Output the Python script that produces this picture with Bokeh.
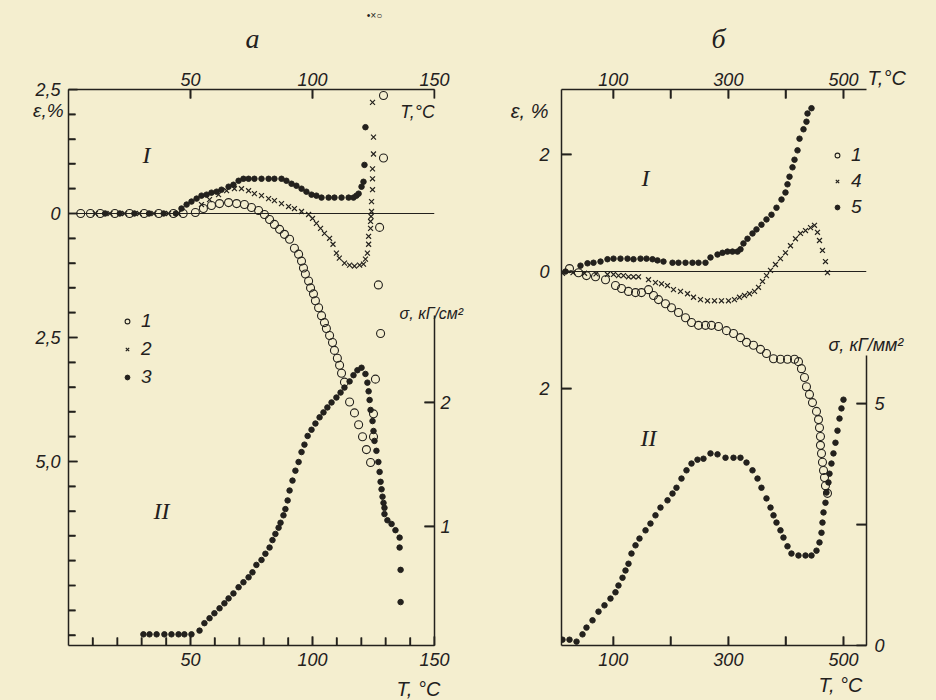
import math
from bokeh.plotting import figure
from bokeh.models import Range1d, LinearAxis, FixedTicker, Span, Label, Legend, LegendItem
from bokeh.layouts import row
from bokeh.embed import file_html
from bokeh.resources import INLINE

# ---------------- panel "а" data ----------------
a1_T = [5, 9, 13, 19, 25, 31, 37, 43, 47, 52.0, 55.3, 58.6, 61.9, 65.6, 68.9, 72.1, 75.0, 77.9, 80.3,
        82.4, 84.4, 86.5, 88.5, 90.6, 92.6, 94.3, 95.5, 96.3, 97.1, 98.4, 99.2, 100.4, 101.2, 102.5,
        103.7, 104.9, 105.7, 107.0, 108.2, 109.0, 110.2, 111.1, 111.9, 113.1, 115.2, 117.2, 118.9,
        120.5, 122.1, 123.8, 125.0, 125.0, 125.8, 127.9, 127.0, 127.5, 129.1, 129.1]
a1_E = [0, 0, 0, 0, 0, 0, 0, 0, 0, 0.02, 0.10, 0.16, 0.20, 0.22, 0.20, 0.18, 0.12, 0.06, -0.02,
        -0.12, -0.22, -0.32, -0.42, -0.52, -0.70, -0.82, -0.96, -1.10, -1.22, -1.36, -1.50, -1.62,
        -1.76, -1.90, -2.06, -2.20, -2.32, -2.46, -2.60, -2.76, -2.92, -3.06, -3.22, -3.40, -3.80,
        -4.02, -4.26, -4.50, -4.76, -5.02, -4.50, -4.04, -3.34, -2.42, -1.44, -0.28, 1.12, 2.38]

a2_T = [11, 17, 23, 29, 35, 41, 45, 54.5, 57.8, 61.5, 64.8, 68.0, 70.9, 73.8, 76.2, 79.1, 82.0,
        84.4, 87.3, 90.2, 92.6, 95.5, 98.4, 100.0, 101.6, 103.3, 104.9, 107.0, 108.4, 109.8, 111.0,
        113.1, 115.2, 117.2, 119.3, 120.9, 121.7, 122.5, 123.0, 123.0, 123.8, 123.8, 124.0, 124.2,
        124.2, 124.6, 124.6, 124.6, 125.0, 125.0, 124.6]
a2_E = [0, 0, 0, 0, 0, 0, 0, 0.18, 0.28, 0.38, 0.46, 0.50, 0.50, 0.46, 0.40, 0.36, 0.30, 0.26,
        0.20, 0.14, 0.10, 0.04, -0.02, -0.10, -0.20, -0.30, -0.40, -0.50, -0.62, -0.80, -0.90,
        -1.00, -1.04, -1.06, -1.04, -1.02, -0.92, -0.80, -0.62, -0.46, -0.30, -0.16, -0.06, 0.04,
        0.24, 0.48, 0.70, 0.90, 1.20, 1.54, 2.24]

a3_T = [15, 21, 27, 33, 39, 44, 46.3, 48.4, 50.4, 52.5, 54.5, 56.6, 58.6, 60.7, 62.7, 65.6, 67.6,
        69.7, 71.7, 73.8, 76.2, 79.1, 82.0, 84.4, 87.3, 89.3, 91.4, 93.4, 95.5, 97.5, 99.6, 101.6,
        103.7, 106.6, 109.0, 111.9, 114.8, 116.8, 118.0, 118.9, 120.1, 120.9, 121.3, 121.7]
a3_E = [0, 0, 0, 0, 0, 0, 0.10, 0.18, 0.24, 0.30, 0.36, 0.38, 0.42, 0.44, 0.48, 0.54, 0.58, 0.66,
        0.70, 0.70, 0.70, 0.70, 0.70, 0.70, 0.70, 0.66, 0.60, 0.56, 0.50, 0.44, 0.38, 0.36, 0.32,
        0.32, 0.32, 0.32, 0.32, 0.32, 0.36, 0.40, 0.54, 0.64, 0.98, 1.74]

as_T = [30.7, 33.2, 36.1, 39.3, 42.2, 45.1, 47.5, 50.4, 53.7, 55.7, 57.8, 59.8, 61.9, 63.9, 65.6,
        67.6, 69.7, 71.7, 73.8, 75.4, 77.0, 79.1, 80.7, 82.4, 83.6, 84.8, 86.1, 86.9, 88.1, 88.9,
        89.8, 90.6, 91.8, 93.0, 94.3, 95.5, 96.7, 98.0, 99.6, 101.2, 102.9, 104.5, 106.1, 107.8,
        109.8, 111.5, 113.1, 115.2, 116.8, 118.4, 120.1, 121.7, 122.5, 123.0, 123.4, 123.8, 124.6,
        125.0, 125.4, 126.2, 127.0, 127.5, 127.9, 128.3, 128.7, 129.1, 129.5, 129.5, 130.7, 132.4,
        134.0, 135.7, 135.7, 136.1, 136.1]
as_S = [0.13, 0.13, 0.13, 0.13, 0.13, 0.13, 0.13, 0.13, 0.16, 0.22, 0.26, 0.30, 0.34, 0.38, 0.42,
        0.46, 0.51, 0.55, 0.59, 0.63, 0.69, 0.73, 0.78, 0.83, 0.89, 0.94, 0.99, 1.03, 1.09, 1.14,
        1.21, 1.29, 1.37, 1.45, 1.52, 1.60, 1.66, 1.73, 1.78, 1.83, 1.88, 1.92, 1.96, 2.00, 2.04,
        2.08, 2.12, 2.17, 2.22, 2.26, 2.28, 2.23, 2.16, 2.09, 2.02, 1.94, 1.85, 1.77, 1.69, 1.61,
        1.52, 1.44, 1.36, 1.30, 1.24, 1.19, 1.15, 1.10, 1.05, 1.02, 0.97, 0.91, 0.83, 0.65, 0.39]

# ---------------- panel "б" data ----------------
b1_T = [23.9, 39.5, 53.4, 69.1, 86.5, 103.8, 114.3, 126.4, 138.6, 149.0, 161.2, 169.9, 178.5,
        190.7, 201.1, 213.3, 225.5, 235.9, 248.1, 260.2, 270.6, 282.8, 296.7, 308.9, 321.0, 331.5,
        343.6, 355.8, 366.2, 378.4, 390.5, 402.7, 414.9, 421.8, 427.0, 432.2, 435.7, 440.9, 446.1,
        453.1, 456.6, 458.3, 460.0, 460.0, 461.8, 463.5, 465.3, 467.0, 468.7, 472.2]
b1_E = [0.05, -0.02, -0.07, -0.09, -0.14, -0.24, -0.29, -0.34, -0.36, -0.36, -0.31, -0.41, -0.48,
        -0.55, -0.62, -0.70, -0.79, -0.87, -0.92, -0.92, -0.92, -0.94, -1.01, -1.06, -1.13, -1.21,
        -1.26, -1.33, -1.40, -1.49, -1.50, -1.50, -1.50, -1.54, -1.66, -1.81, -1.97, -2.10, -2.24,
        -2.39, -2.53, -2.67, -2.82, -2.97, -3.11, -3.26, -3.40, -3.52, -3.66, -3.79]

b4_T = [11.7, 30, 50, 70, 89.9, 100.4, 109.0, 117.7, 126.4, 135.1, 143.8, 161.2, 173.3, 183.8,
        194.2, 204.6, 216.8, 229.0, 239.4, 251.5, 263.7, 275.9, 288.0, 300.2, 310.6, 319.3, 328.0,
        336.7, 345.4, 352.3, 359.3, 366.2, 373.2, 381.8, 390.5, 399.2, 407.9, 416.6, 425.3, 434.0,
        442.7, 449.6, 454.8, 458.3, 463.5, 468.7, 472.2]
b4_E = [-0.03, -0.02, -0.03, -0.04, -0.05, -0.05, -0.07, -0.07, -0.09, -0.09, -0.09, -0.14, -0.19,
        -0.21, -0.24, -0.31, -0.34, -0.38, -0.44, -0.48, -0.50, -0.50, -0.50, -0.50, -0.48, -0.44,
        -0.41, -0.38, -0.34, -0.27, -0.17, -0.07, 0.02, 0.12, 0.22, 0.32, 0.44, 0.56, 0.65, 0.70,
        0.75, 0.79, 0.67, 0.53, 0.36, 0.17, -0.02]

b5_T = [17, 43.0, 55.2, 65.6, 77.8, 89.9, 100.4, 112.5, 124.7, 135.1, 147.3, 157.7, 168.1, 176.8,
        187.2, 202.9, 213.3, 225.5, 237.6, 248.1, 260.2, 268.9, 281.1, 289.8, 298.4, 307.1, 315.8,
        321.0, 326.2, 333.2, 341.9, 348.8, 357.5, 366.2, 374.9, 383.6, 392.3, 399.2, 402.7, 406.2,
        411.4, 414.9, 420.1, 423.6, 430.5, 435.7, 437.5, 444.4]
b5_E = [0.0, 0.10, 0.14, 0.15, 0.17, 0.21, 0.22, 0.22, 0.22, 0.21, 0.22, 0.22, 0.21, 0.19, 0.17,
        0.15, 0.15, 0.15, 0.15, 0.15, 0.15, 0.24, 0.29, 0.32, 0.34, 0.34, 0.34, 0.38, 0.48, 0.56,
        0.65, 0.72, 0.80, 0.89, 0.97, 1.09, 1.23, 1.35, 1.49, 1.62, 1.78, 1.91, 2.07, 2.27, 2.43,
        2.56, 2.70, 2.79]

bs_T = [11.7, 23.9, 36.1, 46.5, 53.4, 63.9, 74.3, 84.7, 95.1, 103.8, 109.0, 116.0, 121.2, 126.4,
        131.6, 138.6, 145.5, 156.0, 164.6, 173.3, 182.0, 194.2, 202.9, 209.8, 218.5, 227.2, 235.9,
        246.3, 256.7, 268.9, 281.1, 295.0, 308.9, 321.0, 331.5, 341.9, 350.6, 357.5, 366.2, 373.2,
        378.4, 383.6, 390.5, 395.7, 402.7, 409.6, 421.8, 434.0, 444.4, 453.1, 458.3, 461.8, 463.5,
        465.3, 468.7, 470.4, 473.9, 475.7, 479.1, 482.6, 486.1, 489.6, 493.1, 496.5, 500.0]
bs_S = [0.12, 0.12, 0.08, 0.23, 0.37, 0.52, 0.70, 0.83, 0.97, 1.10, 1.24, 1.40, 1.55, 1.69, 1.90,
        2.07, 2.21, 2.38, 2.52, 2.69, 2.85, 3.00, 3.14, 3.26, 3.45, 3.62, 3.76, 3.84, 3.86, 3.97,
        3.95, 3.88, 3.88, 3.88, 3.78, 3.62, 3.45, 3.26, 3.04, 2.85, 2.69, 2.54, 2.38, 2.23, 2.05,
        1.90, 1.86, 1.86, 1.86, 1.96, 2.13, 2.33, 2.54, 2.75, 2.95, 3.16, 3.37, 3.55, 3.76, 3.97,
        4.19, 4.44, 4.69, 4.90, 5.08]

# ticks and tick labels
a_eps_ticks = [2.5, 0.0, -2.5, -5.0]
a_eps_labels = ["2,5", "0", "2,5", "5,0"]
a_eps_minor = [2.0, 1.5, 1.0, 0.5, -0.5, -1.0, -1.5, -2.0, -3.0, -3.5, -4.0, -4.5, -5.5, -6.0,
               -6.5, -7.0, -7.5, -8.0, -8.5]
a_T_ticks = [50, 100, 150]
a_T_minor = [10, 20, 30, 40, 60, 70, 80, 90, 110, 120, 130, 140]
a_sig_ticks = [1, 2]
b_eps_ticks = [2, 0, -2]
b_eps_labels = ["2", "0", "2"]
b_T_ticks = [100, 200, 300, 400, 500]
b_T_labels = ["100", "", "300", "", "500"]
b_sig_ticks = [0, 2.5, 5]
b_sig_labels = ["0", "", "5"]

INK = "#23211d"
PAPER = "#f4eecf"
FONT = "Liberation Sans"
SERIF = "Liberation Serif"
TFS = "18px"


def style_axis(ax, standoff=7, tin=8, minor_in=0):
    ax.axis_line_color = INK
    ax.axis_line_width = 1.5
    ax.major_tick_line_color = INK
    ax.major_tick_line_width = 1.5
    ax.major_tick_in = tin
    ax.major_tick_out = 0
    ax.minor_tick_line_color = INK
    ax.minor_tick_line_width = 1.3
    ax.minor_tick_in = minor_in
    ax.minor_tick_out = 0
    ax.major_label_text_font = FONT
    ax.major_label_text_font_style = "italic"
    ax.major_label_text_font_size = TFS
    ax.major_label_text_color = INK
    ax.major_label_standoff = standoff


def tick_marks(p, xs, ys, length, vertical, rng="default"):
    # inward tick marks: a dash centred on the axis, the outer half is clipped by the frame
    p.scatter(xs, ys, marker="dash", size=2 * length, angle=(math.pi / 2 if vertical else 0.0),
              line_color=INK, line_width=1.7, y_range_name=rng)


def base_fig(xr, yr, sr, mb):
    p = figure(width=468, height=700, x_range=Range1d(*xr), y_range=Range1d(*yr),
               output_backend="svg", toolbar_location=None,
               x_axis_location=None, y_axis_location=None,
               min_border_left=mb[0], min_border_right=mb[1], min_border_top=mb[2],
               min_border_bottom=mb[3])
    p.extra_y_ranges = {"s": Range1d(*sr)}
    p.grid.grid_line_color = None
    p.outline_line_color = None
    p.background_fill_color = None
    p.border_fill_color = PAPER
    p.add_layout(Span(location=0, dimension="width", line_color=INK, line_width=1.2))
    return p


def add_label(p, x, y, text, size="19px", align="left", font=FONT, place=None):
    lab = Label(x=x, y=y, text=text, text_font=font, text_font_style="italic",
                text_font_size=size, text_color=INK, text_align=align, text_baseline="middle")
    if place is None:
        p.add_layout(lab)
    else:
        p.add_layout(lab, place)


def series(p, T, Y, kind, rng="default"):
    if kind == "o":
        return p.scatter(T, Y, marker="circle", size=8, fill_color=None, line_color=INK,
                         line_width=1.1, y_range_name=rng)
    if kind == "x":
        return p.scatter(T, Y, marker="x", size=7, line_color=INK, line_width=1.2,
                         y_range_name=rng)
    return p.scatter(T, Y, marker="circle", size=5.5, fill_color=INK, line_color=INK,
                     y_range_name=rng)


def add_legend(p, rends, labels, loc, spacing):
    items = [LegendItem(label=l, renderers=[r]) for r, l in zip(rends, labels)]
    lg = Legend(items=items, location=loc, background_fill_alpha=0, border_line_color=None,
                padding=0, margin=0, spacing=spacing, glyph_width=12, glyph_height=20,
                label_height=20, label_standoff=8, label_text_font=FONT,
                label_text_font_style="italic", label_text_font_size="19px",
                label_text_color=INK)
    p.add_layout(lg)


# ================= panel а =================
pa = base_fig((0, 150), (-8.71, 2.5), (0.04, 4.524), (68, 34, 89, 55))
ax0, ax1 = pa.x_range.start, pa.x_range.end
ay0, ay1 = pa.y_range.start, pa.y_range.end

ax = LinearAxis(ticker=FixedTicker(ticks=a_eps_ticks, minor_ticks=a_eps_minor),
                major_label_overrides=dict(zip(a_eps_ticks, a_eps_labels)))
style_axis(ax, 8, 9, 7)
pa.add_layout(ax, "left")

ax = LinearAxis(ticker=FixedTicker(ticks=a_T_ticks))
style_axis(ax, 4, 9)
pa.add_layout(ax, "above")

ax = LinearAxis(ticker=FixedTicker(ticks=a_T_ticks, minor_ticks=a_T_minor))
style_axis(ax, 7, 9, 8)
pa.add_layout(ax, "below")

ax = LinearAxis(y_range_name="s", ticker=FixedTicker(ticks=a_sig_ticks), bounds=(0, 2.7))
style_axis(ax, 6, 10)
pa.add_layout(ax, "right")

tick_marks(pa, [ax0] * len(a_eps_ticks), a_eps_ticks, 9, False)
tick_marks(pa, [ax0] * len(a_eps_minor), a_eps_minor, 7, False)
tick_marks(pa, a_T_ticks, [ay1] * len(a_T_ticks), 9, True)
tick_marks(pa, a_T_ticks, [ay0] * len(a_T_ticks), 9, True)
tick_marks(pa, a_T_minor, [ay0] * len(a_T_minor), 8, True)
tick_marks(pa, [ax1] * len(a_sig_ticks), a_sig_ticks, 10, False, "s")

r1 = series(pa, a1_T, a1_E, "o")
r2 = series(pa, a2_T, a2_E, "x")
r3 = series(pa, a3_T, a3_E, "d")
series(pa, as_T, as_S, "d", "s")
add_legend(pa, [r1, r2, r3], ["1", "2", "3"], (53, 257), 6)

add_label(pa, 75.4, 3.53, "а", "28px", "center", SERIF, place="above")
add_label(pa, 135.7, -2.02, "σ, кГ/см²", "16px", place="above")
add_label(pa, 125.4, 3.99, "•×○", "10px", "center", place="above")
add_label(pa, -2.0, 2.08, "ε,%", "19px", "right", place="left")
add_label(pa, 134.4, -9.58, "T, °C", "20px", place="below")
add_label(pa, 136.0, 2.04, "T,°C", "18px")
add_label(pa, 32, 1.17, "I", "24px", "center", SERIF)
add_label(pa, 38.1, -5.99, "II", "24px", "center", SERIF)

# ================= panel б =================
pb = base_fig((10, 540), (-6.39, 3.11), (0.0, 11.49), (93, 70, 89, 55))
bx0, bx1 = pb.x_range.start, pb.x_range.end
by0, by1 = pb.y_range.start, pb.y_range.end

ax = LinearAxis(ticker=FixedTicker(ticks=b_eps_ticks),
                major_label_overrides=dict(zip(b_eps_ticks, b_eps_labels)))
style_axis(ax, 12, 10)
pb.add_layout(ax, "left")

ax = LinearAxis(ticker=FixedTicker(ticks=b_T_ticks),
                major_label_overrides=dict(zip(b_T_ticks, b_T_labels)))
style_axis(ax, 4, 9)
pb.add_layout(ax, "above")

ax = LinearAxis(ticker=FixedTicker(ticks=b_T_ticks),
                major_label_overrides=dict(zip(b_T_ticks, b_T_labels)))
style_axis(ax, 7, 9)
pb.add_layout(ax, "below")

ax = LinearAxis(y_range_name="s", ticker=FixedTicker(ticks=b_sig_ticks), bounds=(0, 6.0),
                major_label_overrides=dict(zip(b_sig_ticks, b_sig_labels)))
style_axis(ax, 8, 10)
pb.add_layout(ax, "right")

tick_marks(pb, [bx0] * len(b_eps_ticks), b_eps_ticks, 10, False)
tick_marks(pb, b_T_ticks, [by1] * len(b_T_ticks), 9, True)
tick_marks(pb, b_T_ticks, [by0] * len(b_T_ticks), 9, True)
tick_marks(pb, [bx1] * len(b_sig_ticks), b_sig_ticks, 10, False, "s")

q1 = series(pb, b1_T, b1_E, "o")
q4 = series(pb, b4_T, b4_E, "x")
q5 = series(pb, b5_T, b5_E, "d")
series(pb, bs_T, bs_S, "d", "s")
add_legend(pb, [q1, q4, q5], ["1", "4", "5"], (270, 427), 4)

add_label(pb, 282.8, 3.98, "б", "28px", "center", SERIF, place="above")
add_label(pb, 474, -1.26, "σ, кГ/мм²", "18px", place="above")
add_label(pb, -12.6, 2.75, "ε, %", "20px", "right", place="left")
add_label(pb, 541.7, 3.30, "T,°C", "20px", place="right")
add_label(pb, 456.6, -7.07, "T, °C", "20px", place="below")
add_label(pb, 156, 1.59, "I", "24px", "center", SERIF)
add_label(pb, 161.2, -2.84, "II", "24px", "center", SERIF)

layout = row(pa, pb)
html = file_html(layout, INLINE)
html = html.replace("</head>", "<style>html,body{background:%s;}</style></head>" % PAPER, 1)
open("out.html", "w").write(html)
